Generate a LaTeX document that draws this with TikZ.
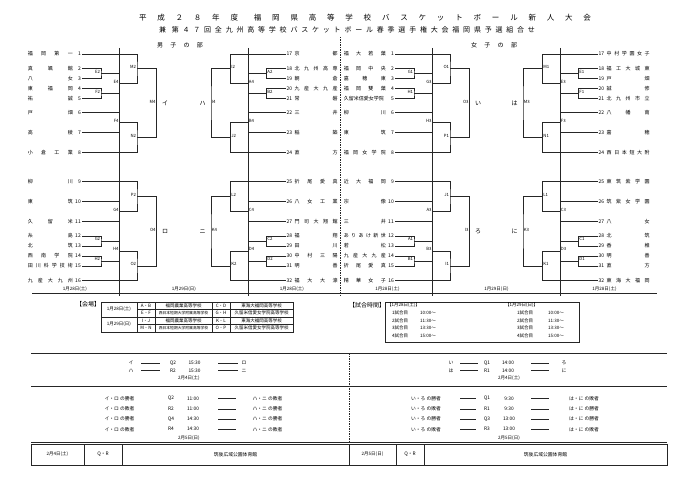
\documentclass[tikz,border=0pt]{standalone}
\usepackage{fontspec}
\setmainfont{Noto Sans CJK JP}
\usetikzlibrary{positioning,calc}
\tikzstyle{bk}=[line width=0.6pt,black!85]
\tikzstyle{team}=[inner xsep=1pt,inner ysep=0pt,font=\fontsize{5}{6}\selectfont]
\tikzstyle{tag}=[anchor=east,inner sep=0.7pt,font=\fontsize{4.3}{5}\selectfont]
\tikzstyle{kana}=[font=\fontsize{6}{7}\selectfont]
\tikzstyle{txt}=[inner sep=0pt,font=\fontsize{4.5}{5.5}\selectfont]
\tikzstyle{sm}=[inner sep=0pt,font=\fontsize{4.8}{6}\selectfont]
\tikzstyle{head}=[inner sep=0pt,font=\fontsize{6}{7}\selectfont]

% y of the 16 team lines on one side
\def\ys{{54,68.3,78.3,88.6,98.6,112.7,132.7,152.7,181.7,201.7,221.7,236,246,256,266,280.7}}

% upper quarter: #1 teams, #2-#8 games, #9 block
\newcommand{\topblock}[9]{%
  \coordinate (#2) at (19,73.3);
  \coordinate (#3) at (19,93.6);
  \coordinate (#4) at (37.5,83.45);
  \coordinate (#5) at (55,68.7);
  \coordinate (#6) at (37.5,122.7);
  \coordinate (#7) at (55,137.7);
  \coordinate (#8) at (74.5,103.2);
  \draw[bk] (#1-2) -| (#2) |- (#1-3);
  \draw[bk] (#1-4) -| (#3) |- (#1-5);
  \draw[bk] (#2) -| (#4) |- (#3);
  \draw[bk] (#1-1) -| (#5) |- (#4);
  \draw[bk] (#1-6) -| (#6) |- (#1-7);
  \draw[bk] (#6) -| (#7) |- (#1-8);
  \draw[bk] (#5) -| (#8) |- (#7);
  \foreach \g in {#2,#3,#4,#5,#6,#7,#8}
    \node[tag] (t-\g) at ([yshift=1.6pt]\g) {\g};
  \node[kana] (k-#8) at (83,103.2) {#9};
}
% lower quarter
\newcommand{\botblock}[9]{%
  \coordinate (#2) at (37.5,211.7);
  \coordinate (#3) at (55,196.7);
  \coordinate (#4) at (19,241);
  \coordinate (#5) at (19,261);
  \coordinate (#6) at (37.5,251);
  \coordinate (#7) at (55,265.85);
  \coordinate (#8) at (74.5,231.3);
  \draw[bk] (#1-10) -| (#2) |- (#1-11);
  \draw[bk] (#1-9) -| (#3) |- (#2);
  \draw[bk] (#1-12) -| (#4) |- (#1-13);
  \draw[bk] (#1-14) -| (#5) |- (#1-15);
  \draw[bk] (#4) -| (#6) |- (#5);
  \draw[bk] (#6) -| (#7) |- (#1-16);
  \draw[bk] (#3) -| (#8) |- (#7);
  \foreach \g in {#2,#3,#4,#5,#6,#7,#8}
    \node[tag] (t-\g) at ([yshift=1.6pt]\g) {\g};
  \node[kana] (k-#8) at (83,231.3) {#9};
}

\begin{document}
\begin{tikzpicture}[x=1pt,y=-1pt]
\useasboundingbox (0,0) rectangle (680,481);

% titles
\node[font=\fontsize{7.5}{9}\selectfont] (title) at (365,18) {\makebox[452pt][s]{平 成 ２ ８ 年 度\kern5pt{} 福 岡 県 高 等 学 校 バ ス ケ ッ ト ボ ー ル 新 人 大 会}};
\node[font=\fontsize{7}{8}\selectfont] (subtitle) at (347,30) {\makebox[376pt][s]{兼\kern2pt{} 第 ４ ７ 回 全 九 州 高 等 学 校 バ ス ケ ッ ト ボ ー ル 春 季 選 手 権 大 会 福 岡 県 予 選 組 合 せ}};
\node[head] (boys) at (180,45) {\makebox[46pt][s]{男 子 の 部}};
\node[head] (girls) at (494,45) {\makebox[46pt][s]{女 子 の 部}};

% teams
\foreach \nm [count=\i] in {{福 岡 第 一},{真 颯 館},{八 女},{東 福 岡},{祐 誠},{戸 畑},{高 稜},{小 倉 工 業},{柳 川},{東 筑},{久 留 米},{糸 島},{北 筑},{西 南 学 院},{田 川 科 学 技 術},{九 産 大 九 州}}{
  \pgfmathsetmacro\y{\ys[\i-1]}
  \node[team,anchor=east] (mL-\i) at (82,\y) {\makebox[45pt][s]{\nm}\makebox[8pt][r]{\i}};
}
\foreach \nm [count=\i] in {{京 都},{北 九 州 高 専},{朝 倉},{九 産 大 九 産},{常 磐},{三 井},{稲 築},{直 方},{折 尾 愛 真},{八 女 工 業},{門 司 大 翔 館},{福 翔},{田 川},{中 村 三 陽},{明 善},{福 大 大 濠}}{
  \pgfmathsetmacro\y{\ys[\i-1]}
  \pgfmathtruncatemacro\n{\i+16}
  \node[team,anchor=west] (mR-\i) at (285.5,\y) {\makebox[8pt][l]{\n}\makebox[43pt][s]{\nm}};
}
\foreach \nm [count=\i] in {{福 大 若 葉},{福 岡 中 央},{嘉 穂 東},{福 岡 雙 葉},{久留米信愛女学院},{柳 川},{東 筑},{福 岡 女 学 院},{近 大 福 岡},{宗 像},{三 井},{あ り あ け 新 世},{若 松},{九 産 大 九 産},{折 尾 愛 真},{精 華 女 子}}{
  \pgfmathsetmacro\y{\ys[\i-1]}
  \node[team,anchor=east] (wL-\i) at (395,\y) {\makebox[42pt][s]{\nm}\makebox[8pt][r]{\i}};
}
\foreach \nm [count=\i] in {{中 村 学 園 女 子},{福 工 大 城 東},{戸 畑},{誠 修},{北 九 州 市 立},{八 幡 南},{嘉 穂},{西 日 本 短 大 附},{東 筑 紫 学 園},{筑 紫 女 学 園},{八 女},{北 筑},{香 椎},{明 善},{直 方},{東 海 大 福 岡}}{
  \pgfmathsetmacro\y{\ys[\i-1]}
  \pgfmathtruncatemacro\n{\i+16}
  \node[team,anchor=west] (wR-\i) at (597.5,\y) {\makebox[8pt][l]{\n}\makebox[43pt][s]{\nm}};
}

% day lines, date strip, centre line
\foreach \x in {119.5,248,432.5,560}
  \draw[bk] (\x,48) -- (\x,296);
\draw[bk] (32,293) -- (657,293);
\draw[bk,dash pattern=on 1.5pt off 1pt] (340,37) -- (340,297);
\foreach \x/\d [count=\k] in {75/1月28日(土),184/1月29日(日),292/1月28日(土),387.5/1月28日(土),496.5/1月29日(日),604.5/1月28日(土)}
  \node[txt] (day-\k) at (\x,289) {\d};

% brackets
\begin{scope}[xshift=82pt]
  \topblock{mL}{E2}{F2}{E4}{M2}{F4}{N2}{M4}{イ}
  \botblock{mL}{G4}{P2}{G2}{H2}{H4}{O2}{O4}{ロ}
\end{scope}
\begin{scope}[xshift=285.5pt,xscale=-1,tag/.append style={anchor=west}]
  \topblock{mR}{A2}{B2}{A4}{I2}{B4}{J2}{I4}{ハ}
  \botblock{mR}{C4}{L2}{C2}{D2}{D4}{K2}{K4}{ニ}
\end{scope}
\begin{scope}[xshift=395pt]
  \topblock{wL}{G1}{H1}{G3}{O1}{H3}{P1}{O3}{い}
  \botblock{wL}{A3}{J1}{A1}{B1}{B3}{I1}{I3}{ろ}
\end{scope}
\begin{scope}[xshift=597.5pt,xscale=-1,tag/.append style={anchor=west}]
  \topblock{wR}{E1}{F1}{E3}{M1}{F3}{N1}{M3}{は}
  \botblock{wR}{C3}{L1}{C1}{D1}{D3}{K1}{K3}{に}
\end{scope}

% venues
\node[head] (kaijo) at (88,304.5) {【会場】};
\draw[bk] (101,302) rectangle (293,332);
\draw[bk] (101,317) -- (293,317);
\draw[bk] (137,309.5) -- (293,309.5) (137,324.5) -- (293,324.5);
\foreach \x in {137,155,212,230}
  \draw[bk] (\x,302) -- (\x,332);
\node[txt] (v-d1) at (119,309.5) {1月28日(土)};
\node[txt] (v-d2) at (119,324.5) {1月29日(日)};
\foreach \a/\s/\b/\t/\y [count=\k] in {A・B/福岡農業高等学校/C・D/東海大福岡高等学校/305.75,
    E・F/{\fontsize{3.8}{4}\selectfont 西日本短期大学附属高等学校}/G・H/久留米信愛女学院高等学校/313.25,
    I・J/福岡農業高等学校/K・L/東海大福岡高等学校/320.75,
    M・N/{\fontsize{3.8}{4}\selectfont 西日本短期大学附属高等学校}/O・P/久留米信愛女学院高等学校/328.25}{
  \node[txt] (v-\k a) at (146,\y) {\a};
  \node[txt] (v-\k s) at (183.5,\y) {\s};
  \node[txt] (v-\k b) at (221,\y) {\b};
  \node[txt] (v-\k t) at (261.5,\y) {\t};
}

% game times
\node[head] (jikan) at (367,305) {【試合時間】};
\draw[bk] (385,302) rectangle (579,342);
\node[txt,anchor=west] (jd-1) at (387,305.5) {【1月28日(土)】};
\node[txt,anchor=west] (jd-2) at (505,305.5) {【1月29日(日)】};
\foreach \k/\t/\y in {1/10:00/313,2/11:30/320.5,3/13:30/328,4/15:00/335.5}{
  \node[txt,anchor=west] (ja-\k) at (392,\y) {\k 試合目};
  \node[txt,anchor=west] (jt-\k) at (420,\y) {\t～};
  \node[txt,anchor=west] (jb-\k) at (517,\y) {\k 試合目};
  \node[txt,anchor=west] (ju-\k) at (548,\y) {\t～};
}

% finals
\draw[bk] (31,353) -- (667,353);
\draw[bk] (31,386.5) -- (667,386.5);
\draw[bk] (31,442.3) -- (667,442.3);
\draw[bk,dash pattern=on 1.5pt off 1pt] (349,353) -- (349,442.3);
\foreach \a/\c/\t/\b/\y in {イ/Q2/15:30/ロ/363,ハ/R2/15:30/ニ/370.5}{
  \node[sm] (p-\c a) at (131,\y) {\a};
  \node[sm] (p-\c c) at (173,\y) {\c};
  \node[sm] (p-\c t) at (194.5,\y) {\t};
  \node[sm] (p-\c b) at (244,\y) {\b};
  \draw[bk,line width=0.4pt] (141,\y) -- (160,\y) (218,\y) -- (238,\y);
}
\foreach \a/\c/\t/\b/\y in {い/Q1/14:00/ろ/363,は/R1/14:00/に/370.5}{
  \node[sm] (p-\c a) at (451,\y) {\a};
  \node[sm] (p-\c c) at (487,\y) {\c};
  \node[sm] (p-\c t) at (508,\y) {\t};
  \node[sm] (p-\c b) at (564,\y) {\b};
  \draw[bk,line width=0.4pt] (460,\y) -- (478,\y) (531,\y) -- (549,\y);
}
\node[txt] (p-day1) at (189,378.5) {2月4日(土)};
\node[txt] (p-day2) at (509,378.5) {2月4日(土)};
\foreach \a/\c/\t/\b/\y in {勝者/Q2/11:00/敗者/398.5,敗者/R2/11:00/勝者/408.7,勝者/Q4/14:30/勝者/419,敗者/R4/14:30/敗者/429.2}{
  \node[sm] (q-\c a) at (119.5,\y) {イ・ロ の\a};
  \node[sm] (q-\c c) at (171,\y) {\c};
  \node[sm] (q-\c t) at (193,\y) {\t};
  \node[sm] (q-\c b) at (267.5,\y) {ハ・ニ の\b};
  \draw[bk,line width=0.4pt] (218,\y) -- (236,\y);
}
\foreach \a/\c/\t/\b/\y in {勝者/Q1/9:30/敗者/398.5,敗者/R1/9:30/勝者/408.7,勝者/Q3/13:00/勝者/419,敗者/R3/13:00/敗者/429.2}{
  \node[sm] (q-\c a) at (426,\y) {い・ろ の\a};
  \node[sm] (q-\c c) at (487,\y) {\c};
  \node[sm] (q-\c t) at (509,\y) {\t};
  \node[sm] (q-\c b) at (584,\y) {は・に の\b};
  \draw[bk,line width=0.4pt] (460,\y) -- (476,\y) (531,\y) -- (549,\y);
}
\node[txt] (q-day1) at (189,438.5) {2月5日(日)};
\node[txt] (q-day2) at (509,438.5) {2月5日(日)};

% final venue
\draw[bk] (31,444) rectangle (667,465);
\foreach \x in {84,122,349,396,424}
  \draw[bk] (\x,444) -- (\x,465);
\node[txt] (f-d1) at (57.5,454.5) {2月4日(土)};
\node[sm] (f-g1) at (103,454.5) {Q・R};
\node[sm] (f-v1) at (235.5,454.5) {筑後広域公園体育館};
\node[txt] (f-d2) at (372.5,454.5) {2月5日(日)};
\node[sm] (f-g2) at (410,454.5) {Q・R};
\node[sm] (f-v2) at (545.5,454.5) {筑後広域公園体育館};
\end{tikzpicture}
\end{document}
